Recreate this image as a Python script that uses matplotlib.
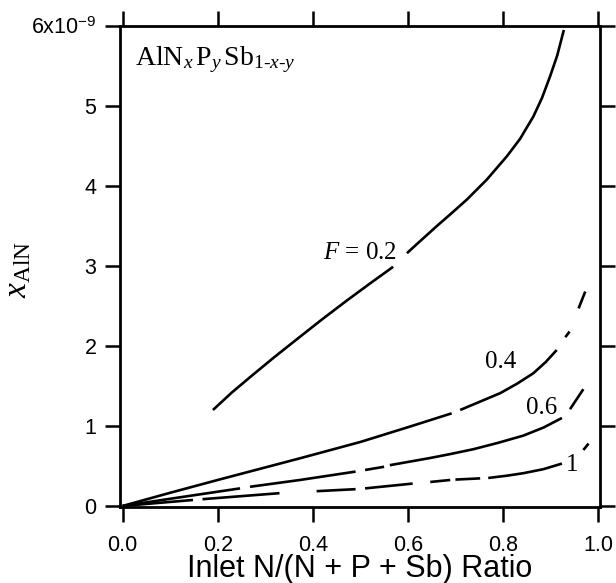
import numpy as np
import matplotlib
matplotlib.use("Agg")
import matplotlib.pyplot as plt

plt.rcParams['font.family'] = ['Liberation Sans', 'DejaVu Sans']
plt.rcParams['mathtext.fontset'] = 'custom'
plt.rcParams['mathtext.rm'] = 'Liberation Serif'
plt.rcParams['mathtext.it'] = 'Liberation Serif:italic'

nan = np.nan

# x_AlN (units of 1e-9) vs inlet N ratio; nan marks breaks in the drawn line
ratio_02 = [0.19, 0.23, 0.274, 0.32, 0.373, 0.42, 0.472, 0.52, 0.569, nan,
            0.598, 0.62, 0.661, 0.69, 0.724, 0.766, 0.808, 0.836, 0.864, 0.882,
            0.899, 0.914, 0.928]
xaln_02 = [1.2, 1.42, 1.64, 1.865, 2.115, 2.335, 2.57, 2.78, 2.99, nan,
           3.16, 3.28, 3.50, 3.65, 3.83, 4.08, 4.37, 4.59, 4.87, 5.10,
           5.37, 5.63, 5.95]

ratio_04 = [0.0, 0.1, 0.2, 0.373, 0.5, 0.603, 0.692, nan, 0.71, 0.75, 0.794, 0.83,
            0.864, 0.89, 0.913, nan, 0.931, 0.94, nan, 0.959, 0.973]
xaln_04 = [0.0, 0.165, 0.325, 0.596, 0.80, 0.99, 1.158, nan, 1.20, 1.30, 1.41, 1.53,
           1.66, 1.80, 1.95, nan, 2.11, 2.18, nan, 2.47, 2.68]

ratio_06 = [0.0, 0.1, 0.247, nan, 0.268, 0.373, 0.49, nan, 0.51, 0.55, nan,
            0.562, 0.647, 0.69, 0.738, 0.79, 0.843, 0.885, 0.924, nan, 0.941, 0.969]
xaln_06 = [0.0, 0.09, 0.22, nan, 0.24, 0.325, 0.43, nan, 0.45, 0.49, nan,
           0.51, 0.60, 0.65, 0.71, 0.79, 0.88, 0.98, 1.10, nan, 1.21, 1.46]

ratio_10 = [0.0, 0.148, nan, 0.168, 0.33, nan, 0.408, 0.49, nan, 0.51, 0.61, nan,
            0.647, 0.689, nan, 0.70, 0.752, nan, 0.769, 0.81, 0.843, 0.885, 0.924,
            nan, 0.969, 0.98]
xaln_10 = [0.0, 0.075, nan, 0.085, 0.16, nan, 0.185, 0.21, nan, 0.22, 0.28, nan,
           0.30, 0.325, nan, 0.33, 0.345, nan, 0.35, 0.38, 0.41, 0.46, 0.53,
           nan, 0.70, 0.78]

xticks = [0.0, 0.2, 0.4, 0.6, 0.8, 1.0]
xtick_labels = ['0.0', '0.2', '0.4', '0.6', '0.8', '1.0']
yticks = [0, 1, 2, 3, 4, 5, 6]
ytick_labels = ['0', '1', '2', '3', '4', '5', r'6x10$^{\mathregular{-9}}$']

fig = plt.figure(figsize=(6.16, 5.83), dpi=100)
ax = fig.add_axes([0.1948, 0.1304, 0.7792, 0.825])

for xs, ys in [(ratio_02, xaln_02), (ratio_04, xaln_04),
               (ratio_06, xaln_06), (ratio_10, xaln_10)]:
    ax.plot(np.array(xs), np.array(ys) * 1e-9, color='black', lw=1.9,
            solid_capstyle='butt', solid_joinstyle='round')

ax.set_xlim(-0.0055, 1.004)
ax.set_ylim(-0.0125e-9, 6.0e-9)
ax.set_xticks(xticks, labels=xtick_labels)
ax.set_yticks(np.array(yticks) * 1e-9, labels=ytick_labels)

for s in ax.spines.values():
    s.set_linewidth(2.0)
ax.tick_params(direction='out', length=11, width=1.8, labelsize=15.5,
               top=True, right=True)
ax.tick_params(axis='x', pad=9)
ax.tick_params(axis='y', pad=6)

ax.set_xlabel('Inlet N/(N + P + Sb) Ratio', fontsize=22)
ax.xaxis.set_label_coords(0.5, -0.098)
ax.set_ylabel(r'$x_{\mathrm{AlN}}$', fontsize=24)
ax.yaxis.set_label_coords(-0.18, 0.493)

serif = ['Liberation Serif', 'DejaVu Serif']
ax.text(0.031, 0.93,
        r'$\mathrm{AlN}_x\,\mathrm{P}_y\,\mathrm{Sb}_{\mathrm{1}\text{-}x\text{-}y}$',
        transform=ax.transAxes, fontsize=20, family=serif, ha='left', va='center')
ax.text(0.5, 3.16e-9, r'$F$ = 0.2', fontsize=18, family=serif, ha='center', va='center')
ax.text(0.795, 1.8e-9, '0.4', fontsize=18, family=serif, ha='center', va='center')
ax.text(0.882, 1.23e-9, '0.6', fontsize=18, family=serif, ha='center', va='center')
ax.text(0.945, 0.51e-9, '1', fontsize=18, family=serif, ha='center', va='center')

fig.savefig('out.png', dpi=100)
